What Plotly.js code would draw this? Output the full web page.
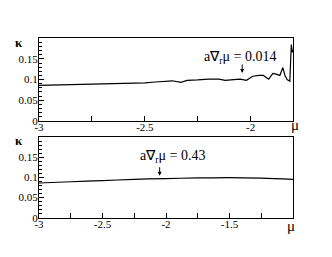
<!DOCTYPE html>
<html><head><meta charset="utf-8">
<script src="https://cdn.plot.ly/plotly-3.0.1.min.js"></script>
<style>html,body{margin:0;padding:0;background:#fff}#c{width:332px;height:257px}</style>
</head><body><div id="c"></div>
<script>
// top panel: a∇r μ = 0.014
var muTop = [-3.0,-2.9,-2.8,-2.7,-2.6,-2.5,-2.45,-2.4,-2.37,-2.33,-2.3,-2.25,-2.2,-2.15,-2.12,-2.08,-2.05,-2.02,-1.99,-1.96,-1.94,-1.915,-1.895,-1.88,-1.862,-1.848,-1.838,-1.828,-1.815,-1.808,-1.803,-1.800];
var kappaTop = [0.086,0.087,0.088,0.089,0.090,0.092,0.094,0.096,0.097,0.093,0.098,0.099,0.101,0.101,0.098,0.100,0.101,0.098,0.108,0.110,0.110,0.101,0.115,0.113,0.110,0.129,0.110,0.100,0.096,0.185,0.166,0.172];
// bottom panel: a∇r μ = 0.43
var muBot = [-3.0,-2.75,-2.5,-2.25,-2.0,-1.75,-1.5,-1.25,-1.0];
var kappaBot = [0.086,0.089,0.092,0.095,0.097,0.0985,0.0995,0.098,0.095];
var xTickValsTop = [-3,-2.5,-2];
var xTickTextTop = ["-3","-2.5","-2"];
var xTickValsBot = [-3,-2.5,-2,-1.5];
var xTickTextBot = ["-3","-2.5","-2","-1.5"];
var yTickVals = [0,0.05,0.1,0.15];
var yTickText = ["0","0.05","0.1","0.15"];
var labelTop = "a∇<sub>r</sub>μ = 0.014";
var labelBot = "a∇<sub>r</sub>μ = 0.43";
var arrowXTop = -2.04, arrowYTop = 0.116;
var arrowXBot = -2.05, arrowYBot = 0.104;

var serif = "Liberation Serif";
function xax(range, tv, tt, anchor){
  return {domain:[0.1175,0.8825], range:range, anchor:anchor, showgrid:false, zeroline:false,
    showline:true, mirror:true, linecolor:"#000", linewidth:1,
    ticks:"inside", ticklen:5, tickcolor:"#000", tickmode:"array", tickvals:tv, ticktext:tt,
    minor:{dtick:0.25, tick0:-3, ticks:"inside", ticklen:5, tickcolor:"#000"},
    tickfont:{family:serif, size:11, color:"#000"}, ticklabelstandoff:-4};
}
function yax(domain, anchor){
  return {domain:domain, range:[0,0.2], anchor:anchor, showgrid:false, zeroline:false,
    showline:true, mirror:true, linecolor:"#000", linewidth:1,
    ticks:"inside", ticklen:5, tickcolor:"#000", tickmode:"array", tickvals:yTickVals, ticktext:yTickText,
    minor:{dtick:0.01, tick0:0, ticks:"inside", ticklen:2.5, tickcolor:"#000"},
    tickfont:{family:serif, size:11, color:"#000"}, ticklabelstandoff:-2};
}
var data = [
  {x:muTop, y:kappaTop, xaxis:"x", yaxis:"y", mode:"lines", line:{color:"#000", width:1.2}, hoverinfo:"skip"},
  {x:muBot, y:kappaBot, xaxis:"x2", yaxis:"y2", mode:"lines", line:{color:"#000", width:1.2, shape:"spline"}, hoverinfo:"skip"}
];
function txt(x, y, t, size){
  return {xref:"paper", yref:"paper", x:x, y:y, xanchor:"center", yanchor:"middle", text:t, showarrow:false, font:{family:serif, size:size, color:"#000"}};
}
var ann = [
  {xref:"x", yref:"y", x:arrowXTop, y:arrowYTop, ax:0, ay:-10, text:"", showarrow:true, arrowhead:2, arrowsize:0.8, arrowwidth:1, arrowcolor:"#000"},
  txt(0.723, 0.778, labelTop, 14),
  {xref:"x2", yref:"y2", x:arrowXBot, y:arrowYBot, ax:0, ay:-10, text:"", showarrow:true, arrowhead:2, arrowsize:0.8, arrowwidth:1, arrowcolor:"#000"},
  txt(0.521, 0.39, labelBot, 14),
  txt(0.058, 0.836, "<b>κ</b>", 13),
  txt(0.058, 0.455, "<b>κ</b>", 13),
  txt(0.888, 0.515, "μ", 15),
  txt(0.878, 0.122, "μ", 15)
];
var layout = {width:332, height:257, margin:{l:0,r:0,t:0,b:0}, paper_bgcolor:"#fff", plot_bgcolor:"#fff",
  showlegend:false,
  xaxis:xax([-3,-1.8], xTickValsTop, xTickTextTop, "y"),
  yaxis:yax([0.530,0.851], "x"),
  xaxis2:xax([-3,-1.0], xTickValsBot, xTickTextBot, "y2"),
  yaxis2:yax([0.153,0.467], "x2"),
  annotations:ann};
Plotly.newPlot("c", data, layout, {staticPlot:true});
</script></body></html>
